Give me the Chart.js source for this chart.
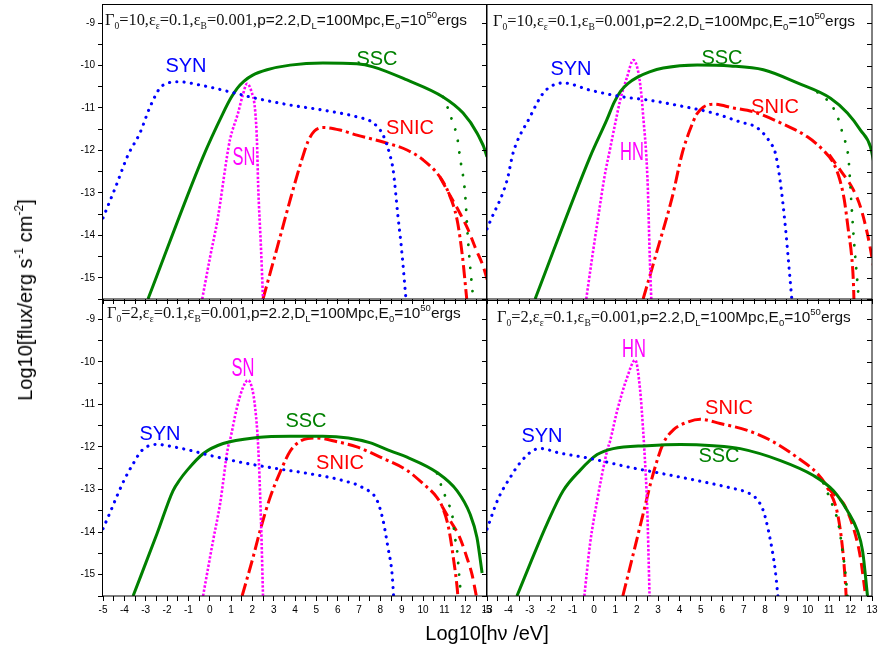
<!DOCTYPE html>
<html>
<head>
<meta charset="utf-8">
<script src="https://cdn.jsdelivr.net/npm/chart.js@4.4.0/dist/chart.umd.min.js"></script>
<style>
    body { margin: 0; background: #fff; }
    #wrap { position: relative; width: 878px; height: 662px; overflow: hidden; font-family: "Liberation Sans", Arial, sans-serif; }
    canvas { position: absolute; left: 0; top: 0; }
    .lbl { position: absolute; font-size: 20px; line-height: 20px; transform: translate(-50%, -50%); white-space: nowrap; }
    .nar { font-size: 25px; line-height: 25px; transform: translate(-50%, -50%) scaleX(0.66); }
    .par { position: absolute; font-size: 15.4px; line-height: 16px; white-space: nowrap; color: #111; }
    .par .tm { font-family: "Liberation Serif", "Times New Roman", serif; font-size: 16.4px; }
    .par sub { font-size: 9.5px; vertical-align: -4px; line-height: 0; }
    .par sup { font-size: 9.5px; vertical-align: 7px; line-height: 0; }
    .ttl { position: absolute; font-size: 20px; line-height: 20px; white-space: nowrap; color: #000; }
    .ttl sup { font-size: 12px; vertical-align: 9px; line-height: 0; }
</style>
</head>
<body>
<div id="wrap">
    <canvas id="tl" width="878" height="662"></canvas>
    <canvas id="tr" width="878" height="662"></canvas>
    <canvas id="bl" width="878" height="662"></canvas>
    <canvas id="br" width="878" height="662"></canvas>

    <div class="par" style="left:105px;top:12px"><span class="tm">Γ<sub>0</sub>=10,ε<sub>ε</sub>=0.1,ε<sub>B</sub>=0.001,</span>p=2.2,D<sub>L</sub>=100Mpc,E<sub>0</sub>=10<sup>50</sup>ergs</div>
    <div class="par" style="left:493px;top:13px"><span class="tm">Γ<sub>0</sub>=10,ε<sub>ε</sub>=0.1,ε<sub>B</sub>=0.001,</span>p=2.2,D<sub>L</sub>=100Mpc,E<sub>0</sub>=10<sup>50</sup>ergs</div>
    <div class="par" style="left:107px;top:305px"><span class="tm">Γ<sub>0</sub>=2,ε<sub>ε</sub>=0.1,ε<sub>B</sub>=0.001,</span>p=2.2,D<sub>L</sub>=100Mpc,E<sub>0</sub>=10<sup>50</sup>ergs</div>
    <div class="par" style="left:497px;top:309px"><span class="tm">Γ<sub>0</sub>=2,ε<sub>ε</sub>=0.1,ε<sub>B</sub>=0.001,</span>p=2.2,D<sub>L</sub>=100Mpc,E<sub>0</sub>=10<sup>50</sup>ergs</div>

    <div class="lbl" style="left:186px;top:65px;color:#0000ff">SYN</div>
    <div class="lbl" style="left:377px;top:58px;color:#008000">SSC</div>
    <div class="lbl nar" style="left:244px;top:156px;color:#ff00ff">SN</div>
    <div class="lbl" style="left:410px;top:127px;color:#ff0000">SNIC</div>

    <div class="lbl" style="left:571px;top:68px;color:#0000ff">SYN</div>
    <div class="lbl" style="left:722px;top:57px;color:#008000">SSC</div>
    <div class="lbl nar" style="left:632px;top:151px;color:#ff00ff">HN</div>
    <div class="lbl" style="left:775px;top:106px;color:#ff0000">SNIC</div>

    <div class="lbl nar" style="left:243px;top:367px;color:#ff00ff">SN</div>
    <div class="lbl" style="left:306px;top:420px;color:#008000">SSC</div>
    <div class="lbl" style="left:160px;top:433px;color:#0000ff">SYN</div>
    <div class="lbl" style="left:340px;top:462px;color:#ff0000">SNIC</div>

    <div class="lbl nar" style="left:634px;top:348px;color:#ff00ff">HN</div>
    <div class="lbl" style="left:729px;top:407px;color:#ff0000">SNIC</div>
    <div class="lbl" style="left:542px;top:435px;color:#0000ff">SYN</div>
    <div class="lbl" style="left:719px;top:455px;color:#008000">SSC</div>

    <div class="ttl" style="left:487px;top:633px;transform:translate(-50%,-50%)">Log10[hν /eV]</div>
    <div class="ttl" style="left:25px;top:300px;transform:translate(-50%,-50%) rotate(-90deg)">Log10[flux/erg s<sup>-1</sup> cm<sup>-2</sup>]</div>
</div>

<script>
// x = log10(hv/eV), y = log10(flux)

// top left: Gamma0 = 10, SN
const tlSyn = [[-5,-13.59],[-4.4,-12.85],[-3.83,-12.11],[-3.27,-11.59],[-2.8,-10.98],[-2.33,-10.53],[-2.0,-10.42],[-1.48,-10.38],[-0.45,-10.46],[1.19,-10.65],[1.89,-10.74],[3.77,-10.93],[5.31,-11.05],[6.9,-11.21],[7.66,-11.35],[8.13,-11.64],[8.45,-12.11],[8.6,-12.46],[8.83,-13.57],[9.0,-14.35],[9.2,-15.5]];
const tlSsc = [[-2.89,-15.5],[-0.31,-12.15],[0.63,-11.12],[1.0,-10.76],[1.3,-10.53],[1.6,-10.37],[2.0,-10.23],[2.69,-10.1],[3.77,-9.99],[5.31,-9.94],[6.9,-9.96],[7.66,-10.03],[9.25,-10.34],[10.94,-10.74],[11.88,-11.12],[12.53,-11.59],[13.0,-12.15],[13.3,-13.0]];
const tlSscAbs = [[10.94,-10.74],[11.2,-11.05],[11.4,-11.35],[11.6,-11.68],[11.74,-12.18],[11.97,-13.0],[12.11,-14.11],[12.3,-15.22],[12.36,-15.5]];
const tlSn = [[-0.35,-15.5],[0.02,-14.51],[0.39,-13.57],[0.81,-12.15],[0.95,-11.75],[1.33,-11.12],[1.55,-10.7],[1.75,-10.43],[1.95,-10.6],[2.13,-11.05],[2.22,-11.82],[2.27,-12.77],[2.41,-14.35],[2.5,-15.5]];
const tlSnic = [[2.5,-15.5],[3.3,-14.04],[3.77,-13.17],[4.3,-12.25],[4.6,-11.8],[4.9,-11.55],[5.31,-11.46],[6.11,-11.52],[6.9,-11.64],[8.13,-11.8],[9.25,-11.99],[10.0,-12.22],[10.8,-12.63],[11.2,-13.0],[11.6,-13.64],[11.85,-14.5],[12.05,-15.5]];
const tlSnicNoAbs = [[10.8,-12.63],[11.2,-13.0],[11.7,-13.45],[12.1,-13.85],[12.5,-14.35],[12.8,-14.7],[13.1,-15.2]];

// top right: Gamma0 = 10, HN
const trSyn = [[-5,-13.85],[-4.86,-13.68],[-4.06,-12.7],[-3.78,-12.06],[-2.99,-11.21],[-2.43,-10.69],[-2.05,-10.5],[-1.44,-10.41],[-0.18,-10.58],[1.37,-10.74],[2.49,-10.81],[4.04,-10.95],[5.58,-11.12],[6.84,-11.33],[7.64,-11.47],[8.25,-11.82],[8.48,-12.06],[8.72,-12.77],[8.95,-13.8],[9.09,-14.58],[9.25,-15.5]];
const trSsc = [[-2.75,-15.5],[-0.18,-12.15],[0.6,-11.28],[0.95,-10.86],[1.25,-10.6],[1.6,-10.42],[2.02,-10.28],[2.6,-10.15],[3.24,-10.06],[4.83,-9.99],[6.38,-10.01],[7.92,-10.1],[9.51,-10.41],[11.06,-10.77],[11.85,-11.12],[12.46,-11.52],[12.93,-11.92],[13.2,-12.6]];
const trSscAbs = [[10.45,-10.63],[11.06,-10.9],[11.39,-11.21],[11.67,-11.68],[11.85,-11.99],[11.92,-12.3],[11.99,-12.86],[12.13,-13.95],[12.32,-15.12],[12.38,-15.5]];
const trHn = [[-0.36,-15.5],[-0.08,-14.51],[0.2,-13.57],[0.5,-12.6],[0.76,-11.95],[1.0,-11.35],[1.23,-10.81],[1.55,-10.27],[1.84,-9.87],[2.05,-10.1],[2.2,-10.6],[2.32,-11.3],[2.44,-12.06],[2.52,-12.9],[2.6,-14.35],[2.68,-15.5]];
const trSnic = [[2.3,-15.5],[2.96,-14.35],[3.66,-13.1],[4.13,-12.06],[4.5,-11.5],[4.8,-11.15],[5.11,-10.98],[5.58,-10.91],[6.52,-11.0],[7.45,-11.09],[8.72,-11.35],[9.98,-11.68],[10.73,-12.0],[11.2,-12.3],[11.5,-12.7],[11.7,-13.15],[11.9,-13.9],[12.05,-14.5],[12.13,-15.1],[12.16,-15.6]];
const trSnicNoAbs = [[11.0,-12.1],[11.5,-12.45],[12.13,-12.93],[12.46,-13.33],[12.8,-14.0],[13.1,-14.8]];

// bottom left: Gamma0 = 2, SN
const blSyn = [[-5,-13.92],[-4.67,-13.54],[-4.3,-13.1],[-3.97,-12.74],[-3.64,-12.44],[-3.17,-12.08],[-2.47,-11.94],[-2.0,-11.97],[-0.92,-12.08],[0.02,-12.2],[1.56,-12.37],[3.16,-12.51],[4.7,-12.63],[6.25,-12.79],[7.19,-12.96],[7.85,-13.26],[8.13,-13.73],[8.36,-14.37],[8.55,-14.98],[8.62,-15.5]];
const blSsc = [[-3.59,-15.5],[-2.47,-14.04],[-1.72,-13.03],[-1.4,-12.77],[-1.06,-12.55],[-0.31,-12.16],[0.63,-11.92],[2.22,-11.78],[3.77,-11.75],[5.31,-11.75],[6.5,-11.79],[7.5,-11.9],[8.5,-12.1],[9.25,-12.24],[10.66,-12.6],[11.6,-13.03],[12.2,-13.57],[12.53,-14.13],[12.77,-14.96]];
const blSscAbs = [[10.66,-12.62],[10.94,-13.03],[11.17,-13.31],[11.36,-13.57],[11.5,-14.13],[11.6,-14.44],[11.69,-14.98],[11.78,-15.5]];
const blSn = [[-0.31,-15.5],[0.16,-14.2],[0.49,-13.33],[0.86,-12.01],[0.95,-11.85],[1.28,-11.07],[1.55,-10.62],[1.8,-10.43],[2.0,-10.65],[2.13,-11.07],[2.27,-11.95],[2.41,-13.8],[2.5,-15.5]];
const blSnic = [[1.52,-15.5],[2.03,-14.6],[2.36,-13.97],[2.83,-13.19],[3.39,-12.49],[3.77,-12.1],[4.2,-11.88],[4.6,-11.8],[5.0,-11.79],[6.0,-11.88],[6.9,-12.0],[8.13,-12.27],[9.25,-12.55],[10.0,-12.86],[10.66,-13.19],[10.9,-13.4],[11.2,-13.9],[11.45,-14.7],[11.6,-15.3],[11.65,-15.6]];
const blSnicNoAbs = [[10.9,-13.4],[11.3,-13.75],[11.7,-14.1],[12.06,-14.6],[12.3,-15.0],[12.5,-15.5]];

// bottom right: Gamma0 = 2, HN
const brSyn = [[-5,-13.93],[-4.48,-13.22],[-3.92,-12.72],[-3.45,-12.37],[-2.84,-12.08],[-2.43,-12.04],[-1.72,-12.13],[-0.18,-12.27],[1.69,-12.48],[3.24,-12.63],[4.83,-12.79],[6.38,-12.96],[7.17,-13.07],[7.55,-13.19],[7.92,-13.5],[8.16,-13.97],[8.34,-14.44],[8.48,-14.91],[8.6,-15.5]];
const brSsc = [[-3.6,-15.5],[-2.99,-14.75],[-2.19,-13.8],[-1.44,-13.03],[-0.65,-12.55],[0.15,-12.18],[0.9,-12.04],[2.49,-11.97],[4.04,-11.94],[5.58,-11.97],[6.84,-12.04],[8.72,-12.32],[10.26,-12.67],[11.2,-13.03],[11.85,-13.5],[12.32,-13.97],[12.56,-14.44],[12.79,-15.5]];
const brSscAbs = [[10.73,-12.85],[11.2,-13.43],[11.43,-13.8],[11.62,-14.44],[11.76,-14.98],[11.85,-15.5]];
const brHn = [[-0.45,-15.5],[-0.18,-14.27],[0.15,-13.26],[0.62,-12.08],[0.76,-11.85],[1.09,-11.14],[1.55,-10.37],[1.93,-9.96],[2.16,-10.67],[2.3,-11.61],[2.35,-12.01],[2.49,-13.43],[2.6,-15.5]];
const brSnic = [[1.35,-15.5],[1.84,-14.51],[2.3,-13.57],[2.77,-12.63],[3.24,-11.92],[3.71,-11.6],[4.36,-11.42],[4.97,-11.35],[5.9,-11.45],[7.17,-11.61],[8.39,-11.88],[9.51,-12.25],[10.45,-12.63],[10.92,-12.96],[11.39,-13.57],[11.62,-14.37],[11.76,-15.22],[11.8,-15.6]];
const brSnicNoAbs = [[10.92,-12.96],[11.3,-13.15],[11.67,-13.33],[12.13,-13.9],[12.46,-14.6],[12.7,-15.5]];

// axis ranges
const xRange = [-5, 13];
const yRange = [-15.5, -8.55];

function pts(arr) {
    return arr.map(p => ({ x: p[0], y: p[1] }));
}

function isWhole(v) {
    return Math.abs(v - Math.round(v)) < 1e-6;
}

// frame round the plot area, plus inward ticks on the right edge
const framePlugin = {
    id: 'frame',
    afterDraw(chart, args, opts) {
        const { ctx, chartArea: a, scales } = chart;
        ctx.save();
        ctx.strokeStyle = '#000';
        ctx.lineWidth = 1;
        ctx.strokeRect(Math.round(a.left) - 0.5, Math.round(a.top) + 0.5,
            Math.round(a.right - a.left) + 0.5, Math.round(a.bottom - a.top) - 0.5);
        if (opts.rightTicks) {
            ctx.beginPath();
            scales.y.ticks.forEach(t => {
                const py = Math.round(scales.y.getPixelForValue(t.value)) + 0.5;
                ctx.moveTo(a.right - 5, py);
                ctx.lineTo(a.right, py);
            });
            ctx.stroke();
        }
        ctx.restore();
    }
};

function lineSet(data, color, width, dash, cap) {
    return {
        data: pts(data),
        borderColor: color,
        borderWidth: width,
        borderDash: dash,
        borderCapStyle: cap || 'butt',
        pointRadius: 0,
        fill: false,
        cubicInterpolationMode: 'monotone'
    };
}

function makePanel(id, pad, yWidth, showX, showY, rightTicks, curves) {
    const ctx = document.getElementById(id).getContext('2d');
    return new Chart(ctx, {
        type: 'line',
        data: {
            datasets: [
                lineSet(curves.syn, '#0000ff', 3.1, [0.1, 7.2], 'round'),
                lineSet(curves.ssc, '#008000', 3, []),
                lineSet(curves.sscAbs, '#008000', 2.8, [0.1, 11.5], 'round'),
                lineSet(curves.sn, '#ff00ff', 2.6, [2.4, 1.8]),
                lineSet(curves.snic, '#ff0000', 3, [13, 4, 3, 4]),
                lineSet(curves.snicNoAbs, '#ff0000', 3, [11, 6])
            ]
        },
        options: {
            responsive: false,
            animation: false,
            events: [],
            layout: { padding: pad },
            plugins: {
                legend: { display: false },
                tooltip: { enabled: false },
                frame: { rightTicks: rightTicks }
            },
            scales: {
                x: {
                    type: 'linear',
                    min: xRange[0],
                    max: xRange[1],
                    grid: { drawOnChartArea: false, tickLength: 5, color: '#000' },
                    border: { display: false },
                    ticks: {
                        stepSize: 0.5,
                        autoSkip: false,
                        maxRotation: 0,
                        minRotation: 0,
                        padding: 3,
                        color: '#000',
                        font: { family: '"Liberation Sans", Arial, sans-serif', size: 10 },
                        callback: v => (showX && isWhole(v)) ? String(Math.round(v)) : ''
                    },
                    afterFit(scale) {
                        scale.height = 20;
                        scale.paddingLeft = 0;
                        scale.paddingRight = 0;
                    }
                },
                y: {
                    type: 'linear',
                    min: yRange[0],
                    max: yRange[1],
                    grid: { drawOnChartArea: false, tickLength: 5, color: '#000' },
                    border: { display: false },
                    afterBuildTicks(scale) {
                        scale.ticks = scale.ticks.filter(t => isWhole(t.value * 2));
                    },
                    ticks: {
                        stepSize: 0.5,
                        autoSkip: false,
                        padding: 3,
                        color: '#000',
                        font: { family: '"Liberation Sans", Arial, sans-serif', size: 10 },
                        callback: v => (showY && isWhole(v)) ? String(Math.round(v)) : ''
                    },
                    afterFit(scale) {
                        scale.width = yWidth;
                        scale.paddingTop = 0;
                        scale.paddingBottom = 0;
                    }
                }
            }
        },
        plugins: [framePlugin]
    });
}

makePanel('tl', { left: 0, right: 391, top: 4, bottom: 343 }, 103, false, true, false,
    { syn: tlSyn, ssc: tlSsc, sscAbs: tlSscAbs, sn: tlSn, snic: tlSnic, snicNoAbs: tlSnicNoAbs });
makePanel('tr', { left: 477, right: 6, top: 4, bottom: 343 }, 10, false, false, true,
    { syn: trSyn, ssc: trSsc, sscAbs: trSscAbs, sn: trHn, snic: trSnic, snicNoAbs: trSnicNoAbs });
makePanel('bl', { left: 0, right: 391, top: 300, bottom: 46 }, 103, true, true, false,
    { syn: blSyn, ssc: blSsc, sscAbs: blSscAbs, sn: blSn, snic: blSnic, snicNoAbs: blSnicNoAbs });
makePanel('br', { left: 477, right: 6, top: 300, bottom: 46 }, 10, true, false, true,
    { syn: brSyn, ssc: brSsc, sscAbs: brSscAbs, sn: brHn, snic: brSnic, snicNoAbs: brSnicNoAbs });
</script>
</body>
</html>
